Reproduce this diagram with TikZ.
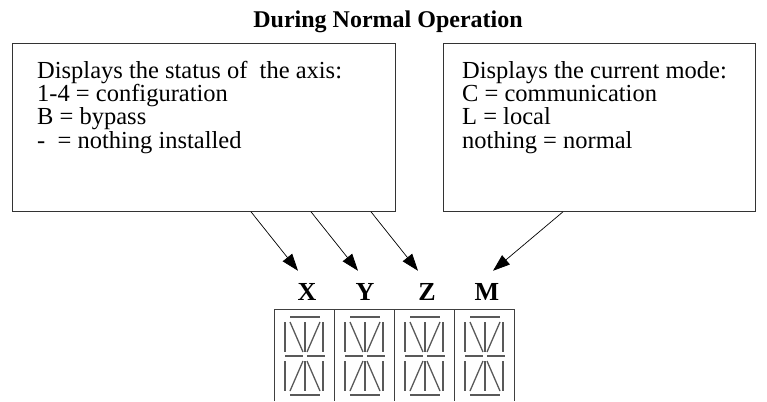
\documentclass[tikz,border=0pt]{standalone}
\usepackage{fontspec}
\setmainfont{Liberation Serif}
\usetikzlibrary{arrows.meta,positioning}

\begin{document}
\begin{tikzpicture}[
    x=1pt, y=-1pt,
    box/.style={draw=black!80, rectangle, line width=0.8pt, minimum height=168pt, anchor=north west},
    note/.style={anchor=base west, align=left, inner sep=0pt, font=\fontsize{24.5}{23.3}\selectfont},
    digit/.style={anchor=base, inner sep=0pt, font=\fontsize{26}{26}\selectfont\bfseries},
    arr/.style={-{Triangle[length=17pt,width=12pt]}, line width=0.7pt},
    frame/.style={draw=black!75, line width=1pt},
    seg/.style={draw=black!65, line width=1.3pt}
]
\useasboundingbox (0,0) rectangle (767,401);

\node (title) [anchor=base, font=\fontsize{24}{24}\selectfont\bfseries] at (388,28) {During Normal Operation};

% the two explanation boxes
\node (axisbox) [box, minimum width=383pt] at (12,43) {};
\node (modebox) [box, minimum width=312pt] at (443,43) {};
\node (axistext) [note] at (37,148) {Displays the status of~ the axis:\\1-4 = configuration\\B = bypass\\-~ = nothing installed};
\node (modetext) [note] at (462,148) {Displays the current mode:\\C = communication\\L = local\\nothing = normal};

% digit labels
\node (labX) [digit] at (307,300) {X};
\node (labY) [digit] at (365,300) {Y};
\node (labZ) [digit] at (427,300) {Z};
\node (labM) [digit] at (487,300) {M};

\draw[arr] ([xshift=239pt]axisbox.south west) -- ([xshift=-9pt,yshift=12pt]labX.north);
\draw[arr] ([xshift=299pt]axisbox.south west) -- ([xshift=-7pt,yshift=12pt]labY.north);
\draw[arr] ([xshift=359pt]axisbox.south west) -- ([xshift=-9pt,yshift=12pt]labZ.north);
\draw[arr] ([xshift=120pt]modebox.south west) -- ([xshift=6pt,yshift=12pt]labM.north);

% display, 14 segments per cell
\draw[frame] (274,401) |- (514,309) -- (514,401);
\foreach \d in {334,394,454}
    \draw[frame] (\d,309) -- (\d,401);
\foreach \c in {0,...,3} {
  \begin{scope}[xshift=\c*60pt]
    \draw[seg] (290,317) -- (320,317) (290,395) -- (320,395);
    \foreach \sx in {285,305,323}
        \draw[seg] (\sx,322) -- (\sx,352) (\sx,361) -- (\sx,391);
    \draw[seg] (285,356) -- (303,356) (307,356) -- (325,356);
    \draw[seg] (290,322) -- (303,352) (320,322) -- (307,352)
               (303,361) -- (290,391) (307,361) -- (320,391);
  \end{scope}
}
\end{tikzpicture}
\end{document}
